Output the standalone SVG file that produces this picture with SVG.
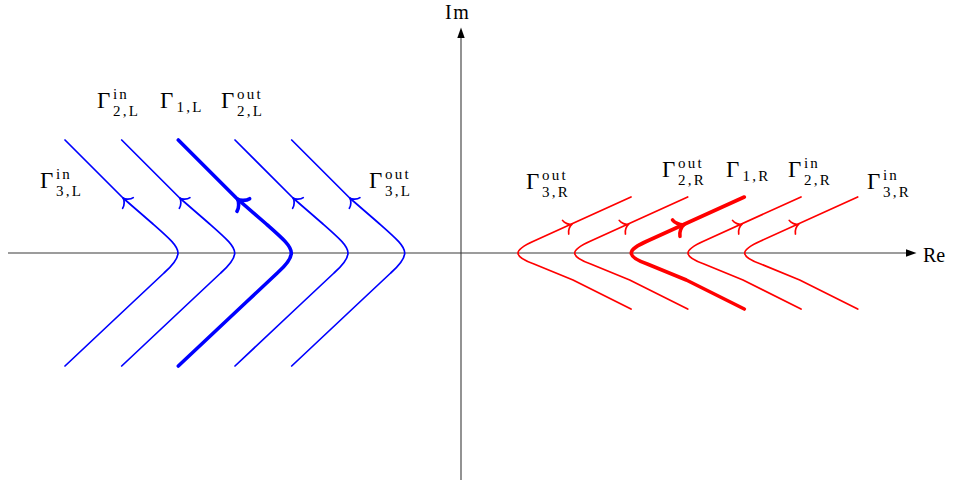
<svg xmlns="http://www.w3.org/2000/svg" xmlns:xlink="http://www.w3.org/1999/xlink" width="959" height="484" viewBox="0 0 959 484">
<style>
.ax{stroke:#3a3a3a;stroke-width:1.1;fill:none}
.ah{fill:#000}
.blue{stroke:#0000ff;fill:none;stroke-width:1.7;stroke-linecap:round;stroke-linejoin:round}
.red{stroke:#ff0000;fill:none;stroke-width:1.7;stroke-linecap:round;stroke-linejoin:round}
.thick{stroke-width:3.6}
.t{font-family:"Liberation Serif","DejaVu Serif",serif;fill:#000}
.g{font-size:23px}
.s{font-size:15px;letter-spacing:2.2px}
.lab{font-size:20px}
</style>
<defs>
<path id="bc" d="M -113,-113 L -55,-55 L -25,-29 C -8,-14 0,-7 0,0 C 0,6 -5,12 -14,20 L -46,50 L -113,113"/>
<path id="rc" d="M 113,-56 L 16,-12 C 6,-7.5 0,-4 0,0 C 0,4 6,7.5 16,11 L 55,27 L 113,56"/>
<path id="arr" d="M -7,7.5 C -6.5,4.4 -2.7,0.3 0,0 C -2.7,-0.3 -6.5,-4.4 -7,-7.5"/>
<path id="arrT" d="M -8.5,9 C -7.8,5.3 -3.2,0.4 0,0 C -3.2,-0.4 -7.8,-5.3 -8.5,-9"/>
</defs>

<g id="axes">
<line class="ax" x1="8" y1="253" x2="908" y2="253"/>
<path class="ah" d="M 916.5,253 L 906,249.3 L 906,256.7 Z"/>
<line class="ax" x1="461" y1="480" x2="461" y2="36"/>
<path class="ah" d="M 461,27.5 L 457.3,38 L 464.7,38 Z"/>
<text class="t lab" x="923" y="262">Re</text>
<text class="t lab" x="445" y="19" letter-spacing="1.5">Im</text>
</g>

<g id="connectors">
<g id="gamma3Lin" class="blue">
<use xlink:href="#bc" transform="translate(178,253)"/>
<use xlink:href="#arr" transform="translate(123,198) rotate(-135)"/>
</g>
<g id="gamma2Lin" class="blue">
<use xlink:href="#bc" transform="translate(234.7,253)"/>
<use xlink:href="#arr" transform="translate(179.7,198) rotate(-135)"/>
</g>
<g id="gamma1L" class="blue thick">
<use xlink:href="#bc" transform="translate(291.3,253)"/>
<use xlink:href="#arrT" transform="translate(237.3,199) rotate(-135)"/>
</g>
<g id="gamma2Lout" class="blue">
<use xlink:href="#bc" transform="translate(348,253)"/>
<use xlink:href="#arr" transform="translate(293,198) rotate(-135)"/>
</g>
<g id="gamma3Lout" class="blue">
<use xlink:href="#bc" transform="translate(404.7,253)"/>
<use xlink:href="#arr" transform="translate(349.7,198) rotate(-135)"/>
</g>

<g id="gamma3Rout" class="red">
<use xlink:href="#rc" transform="translate(518,253)"/>
<use xlink:href="#arr" transform="translate(572,224.3) rotate(-24.4)"/>
</g>
<g id="gamma2Rout" class="red">
<use xlink:href="#rc" transform="translate(574.7,253)"/>
<use xlink:href="#arr" transform="translate(628.7,224.3) rotate(-24.4)"/>
</g>
<g id="gamma1R" class="red thick">
<use xlink:href="#rc" transform="translate(631.3,253)"/>
<use xlink:href="#arrT" transform="translate(684,224.6) rotate(-24.4)"/>
</g>
<g id="gamma2Rin" class="red">
<use xlink:href="#rc" transform="translate(688,253)"/>
<use xlink:href="#arr" transform="translate(742,224.3) rotate(-24.4)"/>
</g>
<g id="gamma3Rin" class="red">
<use xlink:href="#rc" transform="translate(744.7,253)"/>
<use xlink:href="#arr" transform="translate(798.7,224.3) rotate(-24.4)"/>
</g>
</g>

<g id="labels">
<text id="l2Lin" class="t" x="97" y="108"><tspan class="g">Γ</tspan><tspan class="s" x="113" dy="-9">in</tspan><tspan class="s" x="113" dy="17">2,L</tspan></text>
<text id="l1L" class="t" x="160" y="108"><tspan class="g">Γ</tspan><tspan class="s" x="176.5" dy="3.5">1,L</tspan></text>
<text id="l2Lout" class="t" x="221" y="108"><tspan class="g">Γ</tspan><tspan class="s" x="237" dy="-9">out</tspan><tspan class="s" x="237" dy="17">2,L</tspan></text>
<text id="l3Lin" class="t" x="40" y="188"><tspan class="g">Γ</tspan><tspan class="s" x="56" dy="-9">in</tspan><tspan class="s" x="56" dy="17">3,L</tspan></text>
<text id="l3Lout" class="t" x="369" y="188"><tspan class="g">Γ</tspan><tspan class="s" x="385" dy="-9">out</tspan><tspan class="s" x="385" dy="17">3,L</tspan></text>
<text id="l3Rout" class="t" x="526" y="189"><tspan class="g">Γ</tspan><tspan class="s" x="542" dy="-9">out</tspan><tspan class="s" x="542" dy="17">3,R</tspan></text>
<text id="l2Rout" class="t" x="662" y="177"><tspan class="g">Γ</tspan><tspan class="s" x="678" dy="-9">out</tspan><tspan class="s" x="678" dy="17">2,R</tspan></text>
<text id="l1R" class="t" x="726" y="177"><tspan class="g">Γ</tspan><tspan class="s" x="742.5" dy="3.5">1,R</tspan></text>
<text id="l2Rin" class="t" x="788" y="177"><tspan class="g">Γ</tspan><tspan class="s" x="804" dy="-9">in</tspan><tspan class="s" x="804" dy="17">2,R</tspan></text>
<text id="l3Rin" class="t" x="867" y="189"><tspan class="g">Γ</tspan><tspan class="s" x="883" dy="-9">in</tspan><tspan class="s" x="883" dy="17">3,R</tspan></text>
</g>
</svg>
